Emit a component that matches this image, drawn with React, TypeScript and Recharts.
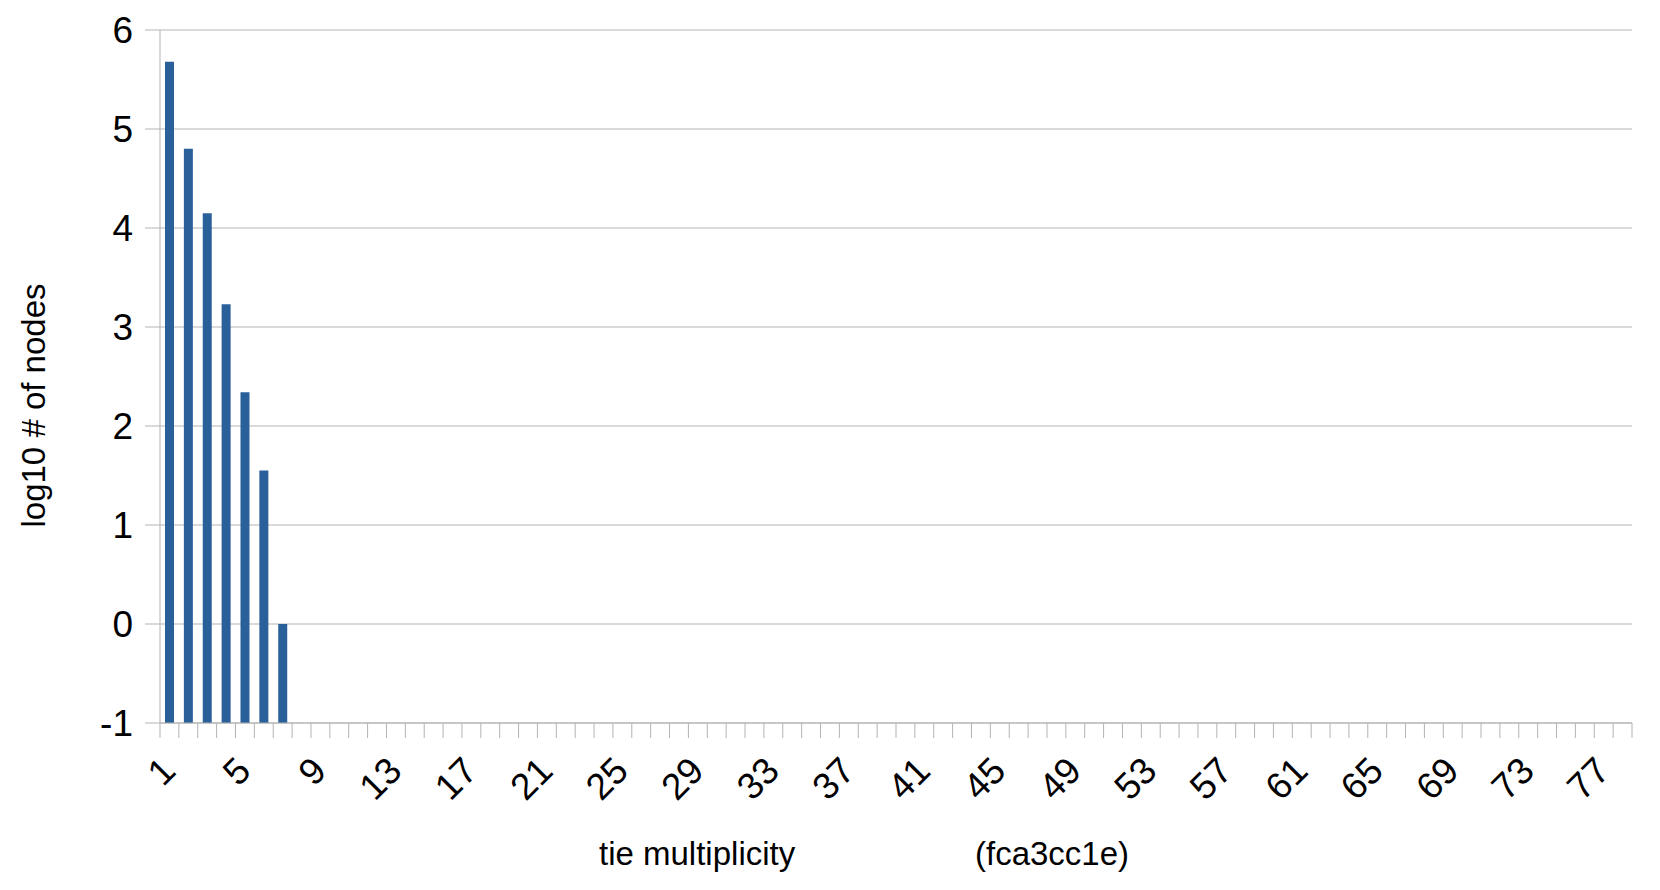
import React from 'react';
import { BarChart, Bar, XAxis, YAxis, CartesianGrid, Label } from 'recharts';

const FONT = '"Liberation Sans", Arial, sans-serif';
const GRID = '#b3b3b3';

// tie multiplicity categories 1..78
const multiplicities = Array.from({ length: 78 }, (_, i) => String(i + 1));
// log10 # of nodes, only the first seven multiplicities have any
const logNodes = [5.68, 4.8, 4.15, 3.23, 2.34, 1.55, 0];
const yTicks = [-1, 0, 1, 2, 3, 4, 5, 6];
const xTitle = 'tie multiplicity';
const runTag = '(fca3cc1e)';
const yTitle = 'log10 # of nodes';

const data = multiplicities.map((m, i) => ({
  m,
  v: i < logNodes.length ? logNodes[i] : null,
}));

const PLOT_W = 1472;
const lastCat = multiplicities[multiplicities.length - 1];

const XTick = (props: any) => {
  const { x, y, payload, index } = props;
  const half = payload && payload.offset ? payload.offset : PLOT_W / multiplicities.length / 2;
  const tx = x + 8;
  const ty = y + 50;
  return (
    <g>
      <line x1={x - half} x2={x - half} y1={y} y2={y + 15} stroke={GRID} />
      {payload.value === lastCat && (
        <line x1={x + half} x2={x + half} y1={y} y2={y + 15} stroke={GRID} />
      )}
      {index % 4 === 0 && (
        <text
          x={tx}
          y={ty}
          textAnchor="end"
          transform={`rotate(-45, ${tx}, ${ty})`}
          fontSize={37}
          fontFamily={FONT}
          fill="#000"
        >
          {payload.value}
        </text>
      )}
    </g>
  );
};

export default function App() {
  return (
    <div style={{ position: 'absolute', left: 0, top: 0, width: 1660, height: 890, background: '#fff' }}>
      <BarChart
        width={1660}
        height={890}
        data={data}
        margin={{ top: 30, right: 28, bottom: 27, left: 0 }}
        barSize={9}
      >
        <CartesianGrid vertical={false} stroke={GRID} />
        <XAxis
          dataKey="m"
          interval={0}
          height={140}
          tickSize={0}
          tickMargin={0}
          tickLine={false}
          axisLine={{ stroke: GRID }}
          tick={<XTick />}
        >
          <Label
            content={(p: any) => {
              const vb = p.viewBox;
              return (
                <g fontFamily={FONT} fontSize={33} fill="#000">
                  <text x={vb.x + 439} y={vb.y + 142}>{xTitle}</text>
                  <text x={vb.x + 815} y={vb.y + 142}>{runTag}</text>
                </g>
              );
            }}
          />
        </XAxis>
        <YAxis
          domain={[-1, 6]}
          ticks={yTicks}
          interval={0}
          width={160}
          tickSize={15}
          tickMargin={12}
          axisLine={{ stroke: GRID }}
          tickLine={{ stroke: GRID }}
          tick={{ fill: '#000', fontSize: 37, fontFamily: FONT }}
        >
          <Label
            content={(p: any) => {
              const vb = p.viewBox;
              const cx = 45;
              const cy = vb.y + vb.height / 2 + 29;
              return (
                <text
                  x={cx}
                  y={cy}
                  textAnchor="middle"
                  transform={`rotate(-90, ${cx}, ${cy})`}
                  fontFamily={FONT}
                  fontSize={33}
                  fill="#000"
                >
                  {yTitle}
                </text>
              );
            }}
          />
        </YAxis>
        <YAxis
          yAxisId="r"
          orientation="right"
          width={0}
          domain={[-1, 6]}
          tick={false}
          tickLine={false}
          axisLine={{ stroke: GRID }}
        />
        <Bar
          dataKey={(d: any) => (d.v == null ? null : [-1, d.v])}
          fill="#2a6099"
          isAnimationActive={false}
        />
      </BarChart>
    </div>
  );
}
